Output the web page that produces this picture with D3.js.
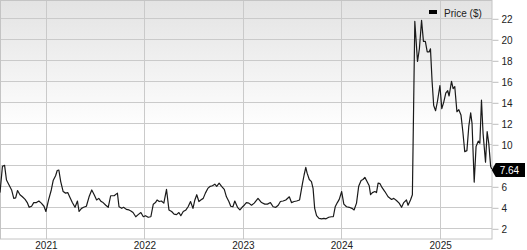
<!DOCTYPE html>
<html>
<head>
<meta charset="utf-8">
<script src="https://cdn.jsdelivr.net/npm/d3@7"></script>
<style>
  body { margin: 0; background: #fff; }
  svg { display: block; font-family: "Liberation Sans", Arial, sans-serif; }
  .tick-label { font-size: 10px; fill: #222; }
</style>
</head>
<body>
<script>
// weekly-ish closing prices
var dates = [
  '2020-07-15','2020-07-24','2020-08-01','2020-08-08','2020-08-18','2020-08-27','2020-09-04','2020-09-11',
  '2020-09-18','2020-09-27','2020-10-06','2020-10-16','2020-10-24','2020-10-31','2020-11-09','2020-11-17',
  '2020-11-27','2020-12-06','2020-12-15','2020-12-25','2021-01-01','2021-01-11','2021-01-21','2021-01-28',
  '2021-02-06','2021-02-12','2021-02-18','2021-02-25','2021-03-06','2021-03-15','2021-03-23','2021-03-30',
  '2021-04-09','2021-04-19','2021-04-28','2021-05-04','2021-05-13','2021-05-21','2021-05-31','2021-06-10',
  '2021-06-20','2021-06-29','2021-07-08','2021-07-16','2021-07-25','2021-08-01','2021-08-11','2021-08-20',
  '2021-08-29','2021-09-11','2021-09-23','2021-09-29','2021-10-09','2021-10-16','2021-10-26','2021-11-05',
  '2021-11-12','2021-11-20','2021-11-30','2021-12-09','2021-12-19','2021-12-28','2022-01-05','2022-01-15',
  '2022-01-25','2022-02-03','2022-02-11','2022-02-17','2022-02-25','2022-03-05','2022-03-14','2022-03-24',
  '2022-04-02','2022-04-12','2022-04-21','2022-04-30','2022-05-09','2022-05-16','2022-05-25','2022-06-04',
  '2022-06-12','2022-06-21','2022-06-30','2022-07-07','2022-07-14','2022-07-22','2022-07-29','2022-08-07',
  '2022-08-15','2022-08-24','2022-09-02','2022-09-10','2022-09-19','2022-09-26','2022-10-05','2022-10-14',
  '2022-10-24','2022-11-01','2022-11-10','2022-11-17','2022-11-25','2022-12-02','2022-12-12','2022-12-21',
  '2022-12-29','2023-01-06','2023-01-14','2023-01-23','2023-02-02','2023-02-12','2023-02-26','2023-03-11',
  '2023-03-23','2023-04-02','2023-04-13','2023-04-23','2023-05-03','2023-05-12','2023-05-20','2023-05-30',
  '2023-06-09','2023-06-22','2023-06-30','2023-07-10','2023-07-19','2023-07-30','2023-08-10','2023-08-16',
  '2023-08-22','2023-08-27','2023-09-04','2023-09-12','2023-09-18','2023-09-24','2023-10-01','2023-10-10',
  '2023-10-20','2023-10-28','2023-11-05','2023-11-15','2023-11-25','2023-12-02','2023-12-09','2023-12-17',
  '2023-12-24','2024-01-02','2024-01-10','2024-01-20','2024-01-30','2024-02-09','2024-02-17','2024-02-26',
  '2024-03-05','2024-03-14','2024-03-21','2024-03-28','2024-04-05','2024-04-13','2024-04-18','2024-04-25',
  '2024-05-04','2024-05-10','2024-05-16','2024-05-23','2024-05-29','2024-06-10','2024-06-22','2024-07-05',
  '2024-07-13','2024-07-23','2024-08-02','2024-08-11','2024-08-19','2024-08-29','2024-09-04','2024-09-13',
  '2024-09-20','2024-09-29','2024-10-09','2024-10-16','2024-10-24','2024-10-31','2024-11-07','2024-11-14',
  '2024-11-21','2024-11-26','2024-12-02','2024-12-08','2024-12-15','2024-12-22','2024-12-31','2025-01-07',
  '2025-01-14','2025-01-22','2025-01-29','2025-02-03','2025-02-12','2025-02-18','2025-02-24','2025-03-04',
  '2025-03-11','2025-03-19','2025-03-26','2025-04-02','2025-04-10','2025-04-17','2025-04-24','2025-04-29',
  '2025-05-07','2025-05-14','2025-05-22','2025-05-28','2025-06-03','2025-06-09','2025-06-18','2025-06-24',
  '2025-06-30','2025-07-07','2025-07-11'
]
var prices = [
  5.4, 7.9, 8.0, 6.6, 6.1, 5.65, 4.85, 4.9,
  5.6, 5.2, 5.0, 4.75, 4.45, 4.0, 4.1, 4.45,
  4.45, 4.6, 4.4, 4.1, 3.6, 4.7, 5.65, 6.55,
  7.0, 7.5, 7.55, 6.45, 5.5, 5.35, 5.4, 5.0,
  4.45, 4.0, 4.6, 3.6, 3.9, 4.0, 4.1, 5.0,
  5.65, 5.2, 4.7, 4.85, 4.55, 4.45, 4.2, 4.0,
  5.1, 5.1, 5.35, 4.05, 3.9, 4.0, 3.8, 3.75,
  3.65, 3.5, 3.1, 3.3, 3.5, 3.1, 3.2, 3.05,
  3.1, 4.3, 4.45, 4.7, 4.55, 4.6, 4.4, 5.7,
  3.75, 3.6, 3.35, 3.3, 3.5, 3.2, 3.6, 3.75,
  4.05, 4.55, 3.9, 4.7, 5.2, 4.55, 4.7, 4.85,
  5.35, 5.8, 6.0, 6.05, 6.2, 6.0, 6.3, 6.0,
  5.7, 5.0, 4.55, 4.1, 4.05, 4.6, 4.0, 3.75,
  4.0, 4.2, 4.45, 4.4, 4.2, 4.4, 4.85, 4.45,
  4.3, 4.3, 4.45, 4.05, 4.0, 4.2, 4.55, 4.6,
  4.7, 5.0, 4.45, 4.55, 4.6, 4.7, 6.3, 7.1,
  7.8, 7.25, 6.65, 6.45, 5.8, 3.9, 3.2, 2.95,
  2.9, 2.95, 2.9, 3.05, 3.1, 3.1, 4.05, 4.45,
  4.75, 5.5, 4.3, 4.05, 4.0, 3.9, 3.75, 4.4,
  6.0, 6.55, 6.65, 6.85, 6.45, 6.05, 5.2, 5.4,
  5.5, 5.4, 6.3, 6.25, 5.95, 5.5, 5.0, 4.75,
  4.85, 4.65, 4.4, 4.0, 4.45, 4.7, 4.2, 4.7,
  5.2, 21.7, 17.9, 19.1, 21.8, 19.8, 19.8, 18.8,
  18.8, 19.1, 16.0, 13.7, 13.2, 14.1, 15.6, 13.4,
  14.0, 14.9, 15.1, 14.6, 16.0, 15.3, 15.5, 13.1,
  13.3, 12.8, 11.2, 9.3, 9.4, 11.7, 13.0, 12.0,
  6.4, 9.8, 10.3, 10.1, 14.2, 11.0, 8.3, 11.2,
  10.1, 7.9, 7.64
]
var yTicks = [2, 4, 6, 8, 10, 12, 14, 16, 18, 20, 22]
var yearTicks = ['2021', '2022', '2023', '2024', '2025']
var seriesName = 'Price ($)'

var width = 527,
    height = 250
var plotW = 492,
    plotH = 239

var parse = d3.timeParse('%Y-%m-%d')
var data = dates.map((d, i) => ({date: parse(d), value: prices[i]}))
var last = data[data.length - 1]

var svg = d3.select('body').append('svg')
    .attr('width', width)
    .attr('height', height)

var x = d3.scaleTime()
    .domain([parse('2020-07-15'), parse('2025-07-12')])
    .range([0, plotW])

var y = d3.scaleLinear()
    .domain([2, 22])
    .range([228.3, 18.3])

// background gradient
var grad = svg.append('defs').append('linearGradient')
    .attr('id', 'bg')
    .attr('x1', 0).attr('y1', 0).attr('x2', 0).attr('y2', 1)
grad.append('stop').attr('offset', '0%').attr('stop-color', '#e3e3e3')
grad.append('stop').attr('offset', '55%').attr('stop-color', '#ffffff')

svg.append('rect')
    .attr('x', 0).attr('y', 0)
    .attr('width', plotW).attr('height', plotH)
    .attr('fill', 'url(#bg)')

// horizontal grid
svg.append('g')
    .selectAll('line')
    .data(yTicks).enter()
    .append('line')
    .attr('x1', 0).attr('x2', plotW)
    .attr('y1', d => Math.round(y(d)) + 0.5)
    .attr('y2', d => Math.round(y(d)) + 0.5)
    .attr('stroke', '#cacaca')

// vertical grid
svg.append('g')
    .selectAll('line')
    .data(yearTicks).enter()
    .append('line')
    .attr('x1', d => Math.round(x(parse(d + '-01-01'))) + 0.5)
    .attr('x2', d => Math.round(x(parse(d + '-01-01'))) + 0.5)
    .attr('y1', 0).attr('y2', plotH)
    .attr('stroke', '#cacaca')

// frame
svg.append('rect')
    .attr('x', 0.5).attr('y', 0.5)
    .attr('width', plotW - 0.5).attr('height', plotH - 0.5)
    .attr('fill', 'none')
    .attr('stroke', '#c4c4c4')

// last price position (flag hides the tick label underneath it)
var ly = y(last.value) + 1
var tipX = x(last.date)

// right axis
var yAxis = d3.axisRight(y)
    .tickValues(yTicks)
    .tickSize(6)
    .tickPadding(3)
    .tickFormat(d3.format('d'))
var ya = svg.append('g')
    .attr('transform', `translate(${plotW + 0.5},0.5)`)
    .call(yAxis)
ya.select('.domain').remove()
ya.selectAll('line').attr('stroke', '#bdbdbd')
ya.selectAll('text')
    .attr('class', 'tick-label')
    .attr('fill', null)
    .attr('font-family', null)
    .attr('font-size', null)
ya.selectAll('.tick')
    .filter(d => Math.abs(y(d) - ly) < 10)
    .select('text').remove()

// bottom year labels
var xAxis = d3.axisBottom(x)
    .tickValues(yearTicks.map(d => parse(d + '-01-01')))
    .tickSize(0)
    .tickPadding(3)
    .tickFormat(d3.timeFormat('%Y'))
var xa = svg.append('g')
    .attr('transform', `translate(0,${plotH})`)
    .call(xAxis)
xa.select('.domain').remove()
xa.selectAll('text')
    .attr('class', 'tick-label')
    .attr('fill', null)
    .attr('font-family', null)
    .attr('font-size', null)

// price line
var line = d3.line()
    .x(d => x(d.date))
    .y(d => y(d.value))
svg.append('path')
    .datum(data)
    .attr('d', line)
    .attr('fill', 'none')
    .attr('stroke', '#1a1a1a')
    .attr('stroke-width', 1.2)
    .attr('stroke-linejoin', 'round')

// last price flag
svg.append('path')
    .attr('d', `M${tipX},${ly} L${tipX + 4},${ly - 7} L${width - 2},${ly - 7} L${width - 2},${ly + 7} L${tipX + 4},${ly + 7} Z`)
    .attr('fill', '#000')
svg.append('text')
    .attr('x', tipX + 8)
    .attr('y', ly + 3.5)
    .attr('fill', '#fff')
    .attr('font-size', 10)
    .text(d3.format('.2f')(last.value))

// legend
var legend = svg.append('g')
    .attr('transform', 'translate(429,0)')
legend.append('rect')
    .attr('x', 0).attr('y', 10)
    .attr('width', 8).attr('height', 4)
    .attr('fill', '#000')
legend.append('text')
    .attr('x', 15).attr('y', 16.5)
    .attr('font-size', 10)
    .attr('fill', '#222')
    .text(seriesName)
</script>
</body>
</html>
